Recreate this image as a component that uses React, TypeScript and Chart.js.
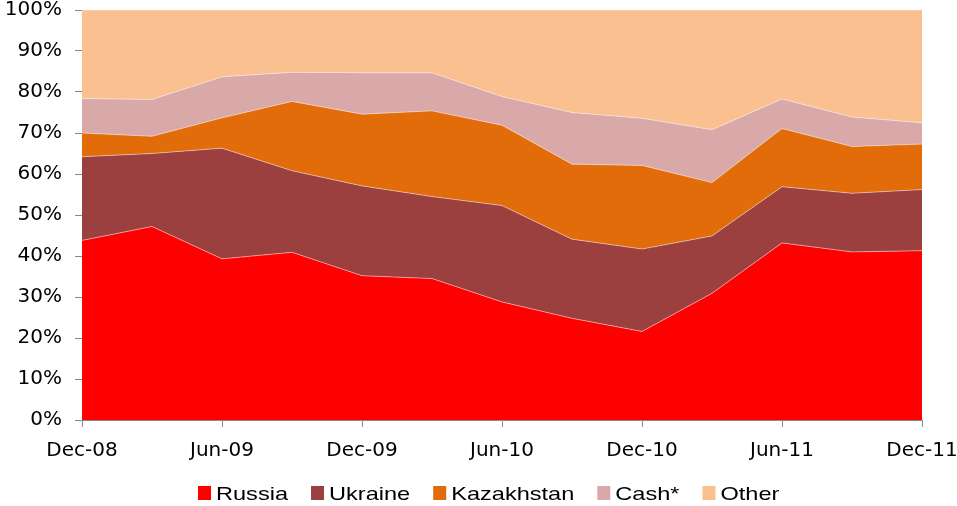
import React, { useEffect, useRef } from 'react';
import { Chart, registerables } from 'chart.js';

Chart.register(...registerables);

const categories = ['Dec-08', 'Mar-09', 'Jun-09', 'Sep-09', 'Dec-09', 'Mar-10', 'Jun-10', 'Sep-10', 'Dec-10', 'Mar-11', 'Jun-11', 'Sep-11', 'Dec-11'];
const russia = [43.8, 47.2, 39.3, 40.9, 35.2, 34.5, 28.8, 24.8, 21.6, 30.9, 43.2, 41.0, 41.3];
const ukraine = [20.4, 17.8, 27.0, 19.9, 21.9, 20.0, 23.5, 19.3, 20.1, 14.0, 13.7, 14.3, 14.9];
const kazakhstan = [5.8, 4.2, 7.4, 16.9, 17.5, 20.9, 19.6, 18.3, 20.4, 13.0, 14.2, 11.4, 11.1];
const cash = [8.4, 9.0, 10.0, 7.1, 10.1, 9.3, 7.0, 12.6, 11.5, 12.9, 7.2, 7.2, 5.2];
const other = [21.6, 21.8, 16.3, 15.2, 15.3, 15.3, 21.1, 25.0, 26.4, 29.2, 21.7, 26.1, 27.5];
const seriesLabels = ['Russia', 'Ukraine', 'Kazakhstan', 'Cash*', 'Other'];
const seriesColors = ['#FF0000', '#9C3F3F', '#E36C0A', '#D9A9A9', '#FAC090'];

const legendPlugin = {
  id: 'customLegend',
  afterDraw(chart: any) {
    const ctx = chart.ctx;
    ctx.save();
    let x = 198;
    const boxW = 13, boxH = 14, boxTop = 486, gap = 5, itemGap = 23, sx = 1.24;
    ctx.font = '19px "Liberation Sans", Arial, sans-serif';
    ctx.textBaseline = 'alphabetic';
    ctx.textAlign = 'left';
    chart.data.datasets.forEach((ds: any) => {
      ctx.fillStyle = ds.backgroundColor;
      ctx.fillRect(x, boxTop, boxW, boxH);
      x += boxW + gap;
      const w = ctx.measureText(ds.label).width * sx;
      ctx.save();
      ctx.translate(x, 499.5);
      ctx.scale(sx, 1);
      ctx.fillStyle = '#000';
      ctx.fillText(ds.label, 0, 0);
      ctx.restore();
      x += w + itemGap;
    });
    ctx.restore();
  },
};

export default function App() {
  const ref = useRef<HTMLCanvasElement | null>(null);
  useEffect(() => {
    if (!ref.current) return;
    const series = [russia, ukraine, kazakhstan, cash, other];
    const chart = new Chart(ref.current, {
      type: 'line',
      data: {
        labels: categories,
        datasets: series.map((d, i) => ({
          label: seriesLabels[i],
          data: d,
          backgroundColor: seriesColors[i],
          borderColor: 'rgba(255,255,255,0.45)',
          borderWidth: 1,
          pointRadius: 0,
          tension: 0,
          fill: i === 0 ? 'origin' : '-1',
        })),
      },
      options: {
        animation: false,
        responsive: true,
        maintainAspectRatio: false,
        layout: { padding: { top: 0, right: 0, bottom: 36, left: 0 } },
        plugins: { legend: { display: false }, tooltip: { enabled: false } },
        scales: {
          x: {
            offset: false,
            grid: { drawOnChartArea: false, drawTicks: true, tickLength: 7, color: '#888' },
            border: { display: true, color: '#888', width: 1 },
            ticks: {
              autoSkip: false,
              maxRotation: 0,
              padding: 12,
              color: '#000',
              font: { family: '"DejaVu Sans", sans-serif', size: 20 },
              callback: function (this: any, _v: any, i: number) {
                return i % 2 === 0 ? categories[i] : null;
              },
            },
            afterFit: (s: any) => {
              s.height = 50;
              s.paddingLeft = 0;
              s.paddingRight = 35;
            },
          },
          y: {
            stacked: true,
            min: 0,
            max: 100,
            grid: { drawOnChartArea: false, drawTicks: true, tickLength: 7, color: '#888' },
            border: { display: true, color: '#888', width: 1 },
            ticks: {
              stepSize: 10,
              padding: 13,
              color: '#000',
              font: { family: '"DejaVu Sans", sans-serif', size: 20, lineHeight: 1 },
              callback: (v: any) => v + '%',
            },
            afterFit: (s: any) => {
              s.width = 82;
              s.paddingTop = 10;
              s.paddingBottom = 0;
            },
          },
        },
      },
      plugins: [legendPlugin],
    });
    return () => chart.destroy();
  }, []);
  return (
    <div style={{ position: 'fixed', left: 0, top: 0, width: 957, height: 506, background: '#fff' }}>
      <canvas ref={ref} />
    </div>
  );
}
